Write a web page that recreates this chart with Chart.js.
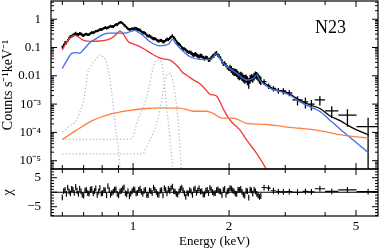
<!DOCTYPE html>
<html>
<head>
<meta charset="utf-8">
<script src="https://cdn.jsdelivr.net/npm/chart.js@4.4.1/dist/chart.umd.min.js"></script>
<style>
  html, body { margin: 0; padding: 0; background: #fff; }
  #wrap { width: 382px; height: 250px; }
</style>
</head>
<body>
<div id="wrap"><canvas id="spec" width="382" height="250"></canvas></div>
<script>
'use strict'

/**
 * Data: N23 spectrum
 */

// fine bins, 0.6 - 2.5 keV
let denseE = [0.600, 0.606, 0.612, 0.618, 0.624, 0.630, 0.636, 0.642, 0.648, 0.654,
    0.661, 0.667, 0.674, 0.680, 0.687, 0.693, 0.700, 0.707, 0.714, 0.721,
    0.728, 0.735, 0.742, 0.750, 0.757, 0.764, 0.772, 0.780, 0.787, 0.795,
    0.802, 0.810, 0.818, 0.826, 0.834, 0.842, 0.850, 0.858, 0.867, 0.875,
    0.884, 0.892, 0.901, 0.910, 0.919, 0.928, 0.937, 0.946, 0.955, 0.964,
    0.974, 0.983, 0.993, 1.002, 1.012, 1.022, 1.032, 1.042, 1.052, 1.062,
    1.073, 1.083, 1.094, 1.104, 1.115, 1.126, 1.137, 1.148, 1.159, 1.170,
    1.182, 1.193, 1.205, 1.217, 1.229, 1.241, 1.253, 1.265, 1.277, 1.290,
    1.302, 1.315, 1.328, 1.341, 1.354, 1.367, 1.380, 1.394, 1.407, 1.421,
    1.435, 1.449, 1.463, 1.477, 1.491, 1.505, 1.520, 1.535, 1.550, 1.565,
    1.580, 1.595, 1.611, 1.627, 1.643, 1.659, 1.675, 1.691, 1.708, 1.724,
    1.741, 1.758, 1.775, 1.792, 1.810, 1.827, 1.845, 1.863, 1.881, 1.900,
    1.918, 1.937, 1.956, 1.975, 1.994, 2.013, 2.033, 2.053, 2.073, 2.093,
    2.113, 2.133, 2.154, 2.175, 2.196, 2.217, 2.239, 2.261, 2.283, 2.305,
    2.328, 2.350, 2.373, 2.396, 2.420, 2.443, 2.467, 2.491, 2.515];
let denseRate = [0.105, 0.122, 0.150, 0.148, 0.178, 0.215, 0.245, 0.252, 0.272, 0.296,
    0.318, 0.292, 0.286, 0.312, 0.305, 0.276, 0.268, 0.294, 0.302, 0.288,
    0.284, 0.318, 0.345, 0.330, 0.352, 0.378, 0.386, 0.402, 0.445, 0.430,
    0.448, 0.482, 0.515, 0.488, 0.498, 0.540, 0.570, 0.545, 0.552, 0.598,
    0.662, 0.640, 0.718, 0.775, 0.785, 0.720, 0.625, 0.575, 0.520, 0.462,
    0.428, 0.445, 0.472, 0.455, 0.484, 0.470, 0.438, 0.425, 0.412, 0.365,
    0.332, 0.340, 0.312, 0.275, 0.252, 0.258, 0.238, 0.215, 0.204, 0.210,
    0.192, 0.178, 0.168, 0.180, 0.176, 0.160, 0.163, 0.182, 0.198, 0.192,
    0.212, 0.236, 0.258, 0.225, 0.197, 0.158, 0.136, 0.132, 0.119, 0.098,
    0.088, 0.090, 0.083, 0.073, 0.068, 0.070, 0.065, 0.058, 0.055, 0.059,
    0.056, 0.050, 0.048, 0.052, 0.050, 0.044, 0.041, 0.045, 0.043, 0.037,
    0.038, 0.044, 0.049, 0.052, 0.060, 0.064, 0.055, 0.049, 0.042, 0.033,
    0.027, 0.028, 0.024, 0.020, 0.018, 0.0195, 0.0175, 0.0150, 0.0140, 0.0138,
    0.0130, 0.0112, 0.0100, 0.0106, 0.0098, 0.0085, 0.0080, 0.0084, 0.0072, 0.0058,
    0.0078, 0.0090, 0.0083, 0.0098, 0.0110, 0.0104, 0.0092, 0.0078, 0.0070];
// relative 1-sigma errors
let denseErr = [0.13, 0.13, 0.13, 0.13, 0.13, 0.13, 0.13, 0.13, 0.13, 0.13,
    0.13, 0.13, 0.13, 0.13, 0.13, 0.13, 0.13, 0.11, 0.11, 0.11,
    0.11, 0.11, 0.11, 0.11, 0.11, 0.11, 0.11, 0.11, 0.11, 0.11,
    0.11, 0.11, 0.11, 0.11, 0.11, 0.11, 0.11, 0.11, 0.11, 0.11,
    0.11, 0.11, 0.11, 0.11, 0.11, 0.11, 0.11, 0.11, 0.11, 0.11,
    0.11, 0.11, 0.11, 0.13, 0.13, 0.13, 0.13, 0.13, 0.13, 0.13,
    0.13, 0.13, 0.13, 0.13, 0.13, 0.13, 0.13, 0.13, 0.13, 0.13,
    0.13, 0.13, 0.13, 0.13, 0.13, 0.13, 0.13, 0.13, 0.13, 0.13,
    0.13, 0.13, 0.13, 0.13, 0.13, 0.13, 0.13, 0.13, 0.13, 0.13,
    0.13, 0.13, 0.13, 0.13, 0.13, 0.13, 0.17, 0.17, 0.17, 0.17,
    0.17, 0.17, 0.17, 0.17, 0.17, 0.17, 0.17, 0.17, 0.17, 0.17,
    0.17, 0.17, 0.17, 0.17, 0.17, 0.17, 0.17, 0.17, 0.17, 0.17,
    0.17, 0.17, 0.17, 0.17, 0.17, 0.26, 0.28, 0.27, 0.30, 0.28,
    0.30, 0.32, 0.31, 0.30, 0.33, 0.32, 0.34, 0.33, 0.35, 0.40,
    0.33, 0.30, 0.32, 0.30, 0.28, 0.30, 0.32, 0.33, 0.34];
let denseChi = [-1.8, 0.4, 0.8, -0.6, 1.6, 0.3, -0.4, 1.1, 0.9, -0.2,
    1.8, 0.5, -0.6, 1.2, 0.3, -0.9, -1.2, 0.6, 0.7, -0.3,
    -0.5, 0.9, 1.1, -0.4, 0.4, 1.3, -0.9, 0.2, 1.5, -0.5,
    -0.3, 0.8, 0.6, -1.1, 2.1, 0.7, -0.8, -0.2, 0.2, 0.9,
    1.0, -0.6, -1.1, 0.3, 0.5, 1.2, 1.7, -0.3, -0.7, 0.4,
    -1.4, -0.5, 0.3, 1.0, 0.9, -0.4, -0.2, 0.8, 1.2, 0.1,
    -0.6, 0.5, 0.8, -0.9, -1.0, 0.6, 0.4, -0.3, 1.6, 0.9,
    0.1, -0.7, -0.9, 0.5, 0.7, -1.1, 1.4, 0.8, -0.4, 1.1,
    0.5, 1.3, 1.9, 0.4, 0.2, -0.6, -0.8, 0.3, 1.1, 1.6,
    0.6, -0.4, -1.6, -0.2, -0.5, 0.7, 0.3, -0.9, 0.9, 1.2,
    -0.2, 0.6, 1.3, 0.2, 0.4, -0.8, -0.7, 0.5, 0.8, -0.3,
    1.5, 0.9, 0.0, -0.4, -0.3, 0.7, 1.0, 0.4, 0.2, -1.0,
    0.7, 1.1, -0.9, 0.3, 0.5, 1.4, 1.2, 0.6, 0.3, -0.5,
    -0.6, 0.9, 0.8, 1.1, 0.1, -0.8, -1.2, 0.5, 0.4, -1.9,
    0.9, 0.6, -0.5, 0.9, 0.3, -0.6, -1.1, -1.6, -1.3];

// grouped bins above 2.5 keV
let binLo = [2.53, 2.62, 2.70, 2.81, 2.90, 3.02, 3.16, 3.40, 3.54, 3.71, 4.00, 4.40, 5.02];
let binHi = [2.62, 2.70, 2.81, 2.90, 3.02, 3.16, 3.40, 3.54, 3.71, 4.00, 4.40, 5.02, 5.93];
let binRate = [0.0062, 0.0044, 0.0036, 0.0030, 0.0029, 0.0025, 0.0014, 0.0012, 0.0010, 0.0014, 5.8e-4, 4.1e-4, 1.6e-4];
let binErr = [0.0013, 0.0010, 0.0008, 0.0007, 0.0007, 0.0006, 0.0005, 0.0005, 0.0004, 0.0005, 2.6e-4, 2.5e-4, 1.7e-4];
let binChi = [1.6, 1.4, 0.5, 0.2, 0.1, 0.2, 0.0, 0.3, 0.1, 1.2, 0.3, 0.8, 0.2];

// model curves [keV, counts/s/keV]
let totalModel = [[0.600, 0.10], [0.620, 0.16], [0.640, 0.25], [0.660, 0.30], [0.680, 0.30], [0.700, 0.28],
    [0.730, 0.30], [0.750, 0.34], [0.780, 0.41], [0.810, 0.47], [0.850, 0.55], [0.880, 0.62],
    [0.910, 0.76], [0.940, 0.64], [0.970, 0.44], [1.000, 0.46], [1.020, 0.48], [1.050, 0.41],
    [1.080, 0.33], [1.130, 0.24], [1.180, 0.19], [1.220, 0.17], [1.260, 0.17], [1.300, 0.21],
    [1.330, 0.25], [1.360, 0.19], [1.400, 0.125], [1.450, 0.088], [1.510, 0.066], [1.560, 0.056],
    [1.620, 0.050], [1.680, 0.043], [1.740, 0.040], [1.790, 0.050], [1.830, 0.060], [1.870, 0.046],
    [1.920, 0.028], [2.000, 0.019], [2.060, 0.015], [2.110, 0.0125], [2.170, 0.0102], [2.240, 0.0083],
    [2.300, 0.0076], [2.380, 0.0088], [2.440, 0.011], [2.500, 0.0075], [2.600, 0.0052], [2.690, 0.0040],
    [2.800, 0.0032], [2.890, 0.0030], [3.000, 0.0027], [3.100, 0.0023], [3.200, 0.0018], [3.340, 0.00135],
    [3.590, 9.3e-4], [3.855, 7.0e-4], [4.150, 3.8e-4], [4.460, 2.6e-4], [4.700, 1.8e-4], [5.000, 1.25e-4],
    [5.470, 8.2e-5]];
let blueModel = [[0.600, 0.018], [0.620, 0.035], [0.642, 0.062], [0.660, 0.066], [0.680, 0.063], [0.700, 0.085],
    [0.733, 0.15], [0.769, 0.21], [0.807, 0.29], [0.850, 0.32], [0.910, 0.32], [0.955, 0.33],
    [0.985, 0.37], [1.010, 0.40], [1.040, 0.34], [1.077, 0.26], [1.130, 0.16], [1.215, 0.115],
    [1.290, 0.13], [1.332, 0.195], [1.360, 0.14], [1.404, 0.094], [1.509, 0.047], [1.622, 0.038],
    [1.743, 0.038], [1.800, 0.052], [1.830, 0.062], [1.870, 0.042], [1.919, 0.028], [2.000, 0.019],
    [2.114, 0.0122], [2.270, 0.0071], [2.383, 0.0082], [2.440, 0.0107], [2.500, 0.0068], [2.690, 0.0036],
    [2.890, 0.0028], [3.100, 0.0021], [3.340, 0.0012], [3.590, 8.0e-4], [3.855, 5.5e-4], [4.100, 3.0e-4],
    [4.460, 1.3e-4], [4.680, 8.3e-5], [5.470, 1.9e-5]];
let redModel = [[0.600, 0.082], [0.620, 0.16], [0.640, 0.24], [0.652, 0.27], [0.668, 0.25], [0.700, 0.18],
    [0.740, 0.165], [0.790, 0.17], [0.830, 0.185], [0.860, 0.22], [0.890, 0.31], [0.910, 0.39],
    [0.935, 0.28], [0.967, 0.16], [1.000, 0.135], [1.050, 0.107], [1.090, 0.085], [1.130, 0.066],
    [1.215, 0.042], [1.260, 0.039], [1.306, 0.036], [1.384, 0.021], [1.430, 0.013], [1.473, 0.0105],
    [1.545, 0.0072], [1.620, 0.0052], [1.700, 0.0030], [1.745, 0.0022], [1.790, 0.0021], [1.830, 0.0019],
    [1.880, 0.0011], [1.920, 6.5e-4], [2.010, 2.8e-4], [2.165, 1.2e-4], [2.270, 5.4e-5], [2.440, 1.8e-5],
    [2.650, 4e-6]];
let orangeModel = [[0.600, 5.6e-5], [0.665, 1.2e-4], [0.751, 2.7e-4], [0.847, 4.4e-4], [0.955, 5.8e-4],
    [1.104, 7.0e-4], [1.215, 7.4e-4], [1.400, 7.2e-4], [1.500, 6.0e-4], [1.545, 5.6e-4], [1.700, 5.6e-4],
    [1.785, 4.7e-4], [1.896, 3.2e-4], [2.060, 3.2e-4], [2.270, 2.1e-4], [2.630, 1.9e-4], [2.960, 1.6e-4],
    [3.340, 1.4e-4], [3.760, 1.2e-4], [4.500, 8.2e-5], [5.470, 6.2e-5]];
let lineA = [[0.600, 1.06e-4], [0.635, 1.7e-4], [0.665, 2.7e-4], [0.680, 5e-4], [0.700, 1.4e-3],
    [0.712, 4.7e-3], [0.720, 0.012], [0.740, 0.024], [0.760, 0.036], [0.775, 0.047], [0.788, 0.054],
    [0.805, 0.047], [0.820, 0.036], [0.833, 0.019], [0.847, 0.0071], [0.862, 1.4e-3], [0.878, 2.1e-4],
    [0.900, 2.4e-5], [0.915, 3e-6]];
let lineB = [[0.600, 5.7e-5], [0.960, 5.7e-5], [1.000, 7e-5], [1.027, 2.1e-4], [1.077, 8e-4],
    [1.117, 3.1e-3], [1.144, 0.012], [1.172, 0.031], [1.200, 0.036], [1.230, 0.028], [1.245, 0.012],
    [1.275, 8e-4], [1.306, 5.5e-5], [1.335, 4e-6]];
let lineC = [[0.600, 1.73e-5], [1.075, 1.73e-5], [1.090, 2.4e-5], [1.131, 5.5e-5], [1.186, 2.1e-4],
    [1.230, 1.4e-3], [1.260, 7e-3], [1.290, 0.012], [1.320, 9.3e-3], [1.354, 2.4e-3], [1.386, 2.1e-4],
    [1.420, 4e-6]];

// axes
let xRange = [0.553, 5.86];
let xTickVals = [1, 2, 5];
let xTickText = ['1', '2', '5'];
let xMinorVals = [0.6, 0.7, 0.8, 0.9, 3, 4];
let yRange = [5.09e-6, 4.4];
let yTickVals = [1, 0.1, 0.01, 0.001, 0.0001, 0.00001];
let yTickText = ['1', '0.1', '0.01', '10⁻³', '10⁻⁴', '10⁻⁵'];
let chiRange = [-8.2, 8];
let chiTickVals = [5, 0, -5];
let chiTickText = ['5', '0', '−5'];

const serif = 'Liberation Serif';

function pts(list) {
    return list.map(p => ({ x: p[0], y: p[1] }));
}

function modelLine(list, color, dashed) {
    return {
        type: 'line',
        data: pts(list),
        yAxisID: 'y',
        borderColor: color,
        borderWidth: dashed ? 1.2 : 1.3,
        borderDash: dashed ? [1.2, 2.2] : [],
        pointRadius: 0,
        cubicInterpolationMode: 'monotone',
        fill: false
    };
}

// keep panel edges exactly where the layout puts them
function fixWidth(s) {
    s.width = 51;
    s.paddingTop = 0;
    s.paddingBottom = 0;
}

/**
 * Plugin: error bars, boxes, inward ticks, label
 */

function crossLine(ctx, x0, y0, x1, y1) {
    ctx.moveTo(x0, y0);
    ctx.lineTo(x1, y1);
}

function binEdges(i) {
    let n = denseE.length, e = denseE[i];
    let lo = i > 0 ? (e + denseE[i - 1]) / 2 : e - (denseE[1] - e) / 2;
    let hi = i < n - 1 ? (e + denseE[i + 1]) / 2 : e + (e - denseE[n - 2]) / 2;
    return [lo, hi];
}

let spectrumPlugin = {
    id: 'spectrum',
    beforeDatasetsDraw(chart) {
        let ctx = chart.ctx;
        let { x, y, yr } = chart.scales;
        ctx.save();
        ctx.strokeStyle = '#000';
        ctx.lineWidth = 1.3;

        // upper panel
        ctx.save();
        ctx.beginPath();
        ctx.rect(x.left, y.top, x.right - x.left, y.bottom - y.top);
        ctx.clip();
        ctx.beginPath();
        denseE.forEach(function (e, i) {
            let [lo, hi] = binEdges(i);
            let r = denseRate[i], f = denseErr[i];
            let px = x.getPixelForValue(e), py = y.getPixelForValue(r);
            crossLine(ctx, x.getPixelForValue(lo), py, x.getPixelForValue(hi), py);
            crossLine(ctx, px, y.getPixelForValue(r * (1 + f)), px, y.getPixelForValue(r * (1 - f)));
        });
        binRate.forEach(function (r, i) {
            let e = Math.sqrt(binLo[i] * binHi[i]);
            let px = x.getPixelForValue(e), py = y.getPixelForValue(r);
            let low = r - binErr[i] > 0 ? y.getPixelForValue(r - binErr[i]) : y.bottom + 2;
            crossLine(ctx, x.getPixelForValue(binLo[i]), py, x.getPixelForValue(binHi[i]), py);
            crossLine(ctx, px, y.getPixelForValue(r + binErr[i]), px, low);
        });
        ctx.stroke();
        ctx.restore();

        // residual panel
        ctx.save();
        ctx.lineWidth = 1.1;
        ctx.beginPath();
        ctx.rect(x.left, yr.top, x.right - x.left, yr.bottom - yr.top);
        ctx.clip();
        ctx.beginPath();
        denseE.forEach(function (e, i) {
            let [lo, hi] = binEdges(i);
            let c = denseChi[i];
            let px = x.getPixelForValue(e), py = yr.getPixelForValue(c);
            crossLine(ctx, x.getPixelForValue(lo), py, x.getPixelForValue(hi), py);
            crossLine(ctx, px, yr.getPixelForValue(c + 1), px, yr.getPixelForValue(c - 1));
        });
        binChi.forEach(function (c, i) {
            let e = Math.sqrt(binLo[i] * binHi[i]);
            let px = x.getPixelForValue(e), py = yr.getPixelForValue(c);
            crossLine(ctx, x.getPixelForValue(binLo[i]), py, x.getPixelForValue(binHi[i]), py);
            crossLine(ctx, px, yr.getPixelForValue(c + 1), px, yr.getPixelForValue(c - 1));
        });
        ctx.stroke();
        ctx.restore();
        ctx.restore();
    },
    afterDraw(chart) {
        let ctx = chart.ctx;
        let { x, y, yr } = chart.scales;
        ctx.save();
        ctx.strokeStyle = '#000';
        ctx.lineWidth = 1.2;
        ctx.strokeRect(x.left, y.top, x.right - x.left, y.bottom - y.top);
        ctx.strokeRect(x.left, yr.top, x.right - x.left, yr.bottom - yr.top);

        ctx.lineWidth = 1;
        ctx.beginPath();
        xTickVals.concat(xMinorVals).forEach(function (v) {
            let px = x.getPixelForValue(v);
            let len = xTickVals.includes(v) ? 6 : 4;
            [y, yr].forEach(function (s) {
                crossLine(ctx, px, s.top, px, s.top + len);
                crossLine(ctx, px, s.bottom, px, s.bottom - len);
            });
        });
        for (let d = -6; d <= 0; d++) {
            for (let m = 1; m <= 9; m++) {
                let v = m * Math.pow(10, d);
                if (v < yRange[0] || v > yRange[1]) continue;
                let py = y.getPixelForValue(v);
                let len = m === 1 ? 6 : 3;
                crossLine(ctx, x.left, py, x.left + len, py);
                crossLine(ctx, x.right, py, x.right - len, py);
            }
        }
        for (let v = -8; v <= 8; v++) {
            let py = yr.getPixelForValue(v);
            let len = v % 5 === 0 ? 6 : 3;
            crossLine(ctx, x.left, py, x.left + len, py);
            crossLine(ctx, x.right, py, x.right - len, py);
        }
        ctx.stroke();

        ctx.fillStyle = '#000';
        ctx.font = '18px "' + serif + '"';
        ctx.textBaseline = 'alphabetic';
        ctx.fillText('N23', x.right - 63, y.top + 31.5);
        ctx.restore();
    }
};

/**
 * Chart
 */

let ctx = document.getElementById('spec');
let specChart = new Chart(ctx, {
    type: 'line',
    data: {
        datasets: [
            modelLine(lineA, '#a9b9bd', true),
            modelLine(lineB, '#a9b9bd', true),
            modelLine(lineC, '#a9b9bd', true),
            modelLine(orangeModel, '#ff7f3f', false),
            modelLine(redModel, '#f03a3a', false),
            modelLine(blueModel, '#3d6ee8', false),
            modelLine(totalModel, '#000000', false),
            {
                type: 'line',
                data: [{ x: xRange[0], y: 0 }, { x: xRange[1], y: 0 }],
                yAxisID: 'yr',
                borderColor: '#000',
                borderWidth: 1.1,
                pointRadius: 0
            }
        ]
    },
    options: {
        responsive: false,
        animation: false,
        devicePixelRatio: 1,
        layout: { padding: { left: 0, right: 4, top: 1, bottom: 0 } },
        plugins: {
            legend: { display: false },
            tooltip: { enabled: false }
        },
        scales: {
            x: {
                type: 'logarithmic',
                min: xRange[0],
                max: xRange[1],
                afterBuildTicks: function (s) { s.ticks = xTickVals.map(v => ({ value: v })); },
                afterFit: function (s) { s.height = 34; s.paddingLeft = 0; s.paddingRight = 0; },
                grid: { display: false, drawTicks: false },
                border: { display: false },
                ticks: {
                    autoSkip: false,
                    maxRotation: 0,
                    padding: 3,
                    color: '#000',
                    font: { family: serif, size: 13 },
                    callback: function (v) { let i = xTickVals.indexOf(v); return i < 0 ? '' : xTickText[i]; }
                },
                title: {
                    display: true,
                    text: 'Energy (keV)',
                    color: '#000',
                    font: { family: serif, size: 13 },
                    padding: { top: 0, bottom: 1 }
                }
            },
            yr: {
                type: 'linear',
                position: 'left',
                stack: 'panels',
                stackWeight: 47,
                min: chiRange[0],
                max: chiRange[1],
                afterBuildTicks: function (s) { s.ticks = chiTickVals.map(v => ({ value: v })); },
                afterFit: fixWidth,
                grid: { display: false, drawTicks: false },
                border: { display: false },
                ticks: {
                    padding: 10,
                    color: '#000',
                    font: { family: serif, size: 13 },
                    callback: function (v) { let i = chiTickVals.indexOf(v); return i < 0 ? '' : chiTickText[i]; }
                },
                title: {
                    display: true,
                    text: 'χ',
                    color: '#000',
                    font: { family: serif, size: 14 },
                    padding: 0
                }
            },
            y: {
                type: 'logarithmic',
                position: 'left',
                stack: 'panels',
                stackWeight: 168,
                min: yRange[0],
                max: yRange[1],
                afterBuildTicks: function (s) { s.ticks = yTickVals.map(v => ({ value: v })); },
                afterFit: fixWidth,
                grid: { display: false, drawTicks: false },
                border: { display: false },
                ticks: {
                    autoSkip: false,
                    padding: 10,
                    color: '#000',
                    font: { family: serif, size: 13 },
                    callback: function (v) { let i = yTickVals.indexOf(v); return i < 0 ? '' : yTickText[i]; }
                },
                title: {
                    display: true,
                    text: 'Counts s⁻¹keV⁻¹',
                    color: '#000',
                    font: { family: serif, size: 14 },
                    padding: 0
                }
            }
        }
    },
    plugins: [spectrumPlugin]
});
</script>
</body>
</html>
